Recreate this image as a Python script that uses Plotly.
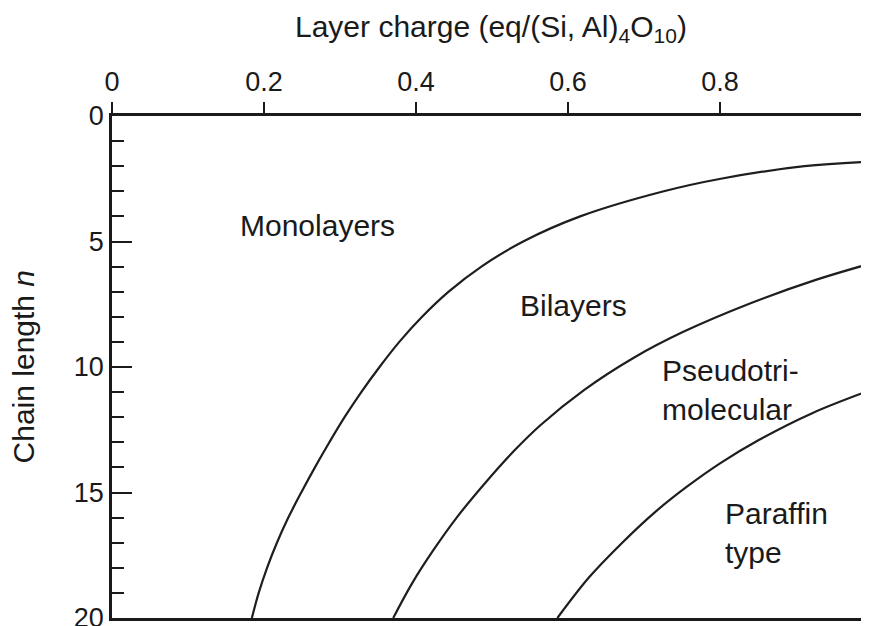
import plotly.graph_objects as go

# Boundary curves: layer charge (x) vs chain length n (y)
mono_bi_y = [20, 19, 18, 17, 16, 15, 14, 13, 12, 11, 10, 9, 8, 7, 6, 5, 4, 3, 2.5, 2, 1.82]
mono_bi_x = [0.184, 0.193, 0.204, 0.217, 0.232, 0.249, 0.267, 0.286, 0.306, 0.328, 0.352, 0.378, 0.408, 0.443, 0.486, 0.541, 0.616, 0.726, 0.801, 0.911, 1.0]

bi_pseudo_y = [20.0, 18.61, 17.29, 15.98, 14.62, 13.31, 12.31, 10.92, 9.64, 8.61, 7.45, 6.53, 5.86]
bi_pseudo_x = [0.370, 0.395, 0.423, 0.454, 0.491, 0.530, 0.564, 0.621, 0.686, 0.751, 0.841, 0.926, 1.0]

pseudo_paraffin_y = [20.0, 18.37, 17.01, 15.82, 14.78, 13.82, 12.91, 11.83, 10.9]
pseudo_paraffin_x = [0.586, 0.628, 0.671, 0.713, 0.756, 0.801, 0.851, 0.922, 1.0]

x_ticks = [0, 0.2, 0.4, 0.6, 0.8]
x_ticktext = ["0", "0.2", "0.4", "0.6", "0.8"]
x_last_tick = "1"
y_ticks = [0, 5, 10, 15, 20]

region_labels = ["Monolayers", "Bilayers", "Pseudotri-<br>molecular", "Paraffin<br>type"]
region_x = [0.27, 0.607, 0.721, 0.804]
region_y = [4.35, 7.55, 10.9, 16.6]
region_anchor = ["center", "center", "left", "left"]

x_title = "Layer charge (eq/(Si, Al)<sub>4</sub>O<sub>10</sub>)"
y_title = "Chain length <i>n</i>"

FONT = "Liberation Sans, Arial, sans-serif"
INK = "#1a1a1a"
LINE = "#1e1e1e"

fig = go.Figure()
for xs, ys in [(mono_bi_x, mono_bi_y), (bi_pseudo_x, bi_pseudo_y), (pseudo_paraffin_x, pseudo_paraffin_y)]:
    fig.add_trace(go.Scatter(x=xs, y=ys, mode="lines",
                             line=dict(color=LINE, width=2.2, shape="spline", smoothing=1.0),
                             showlegend=False, hoverinfo="skip"))

for t, xx, yy, a in zip(region_labels, region_x, region_y, region_anchor):
    fig.add_annotation(x=xx, y=yy, text=t, showarrow=False, xanchor=a, yanchor="middle",
                       align="left", font=dict(family=FONT, size=30, color=INK))

# axis titles
fig.add_annotation(xref="paper", yref="paper", x=0.5, y=1.175, text=x_title, showarrow=False,
                   xanchor="center", yanchor="middle", font=dict(family=FONT, size=30, color=INK))
fig.add_annotation(xref="paper", yref="paper", x=-0.117, y=0.5, text=y_title, showarrow=False,
                   textangle=-90, xanchor="center", yanchor="middle",
                   font=dict(family=FONT, size=30, color=INK))
# last top tick label (partly cut by the page edge)
fig.add_annotation(xref="paper", yref="paper", x=1.004, y=1.0697, text=x_last_tick, showarrow=False,
                   xanchor="center", yanchor="middle", font=dict(family=FONT, size=27, color=INK))

fig.update_layout(
    width=861, height=618,
    margin=dict(l=104, r=0, t=108, b=8, autoexpand=False),
    paper_bgcolor="white", plot_bgcolor="white",
    font=dict(family=FONT, size=27, color=INK),
    showlegend=False,
)
fig.update_xaxes(
    side="top", range=[0, 0.996], tickvals=x_ticks, ticktext=x_ticktext,
    ticks="outside", ticklen=11, tickwidth=2, tickcolor=INK,
    showline=True, linewidth=2.5, linecolor=INK, mirror=True,
    showgrid=False, zeroline=False, automargin=False,
    tickfont=dict(family=FONT, size=27, color=INK),
)
fig.update_yaxes(
    range=[20, 0], tickvals=y_ticks,
    ticks="inside", ticklen=20, tickwidth=2, tickcolor=INK,
    minor=dict(dtick=1, ticks="inside", ticklen=12, tickwidth=2, tickcolor=INK, showgrid=False),
    showline=True, linewidth=2.5, linecolor=INK, mirror=False,
    showgrid=False, zeroline=False, ticklabeloverflow="allow", automargin=False,
    tickfont=dict(family=FONT, size=27, color=INK),
)

fig.write_html("out.html")
